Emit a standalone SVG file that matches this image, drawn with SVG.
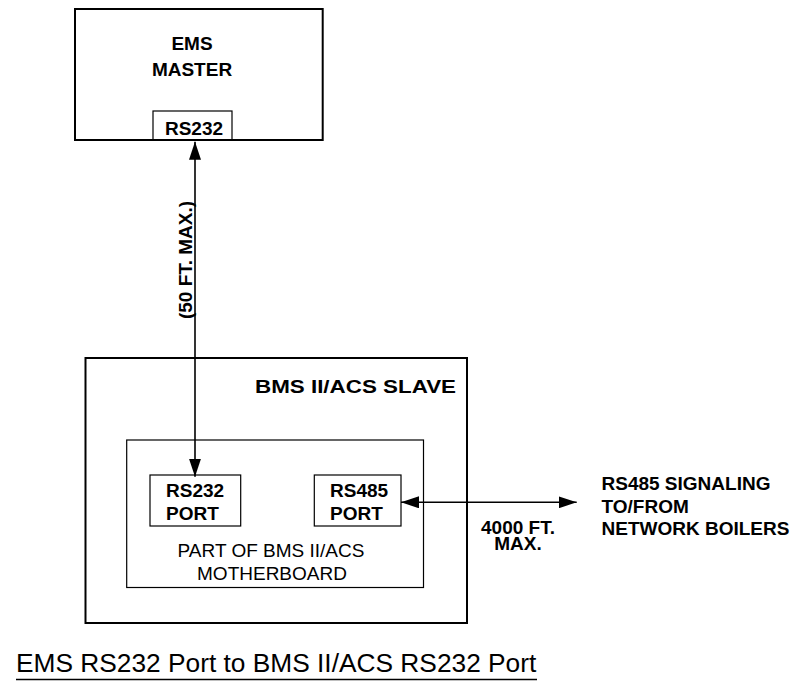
<svg xmlns="http://www.w3.org/2000/svg" width="791" height="683" viewBox="0 0 791 683">
<defs>
<style>
text{font-family:"Liberation Sans",Arial,Helvetica,sans-serif;fill:#000}
.b{font-weight:bold;font-size:19px}
.r{font-size:19px}
.thick{fill:none;stroke:#000;stroke-width:2}
.thin{fill:none;stroke:#000;stroke-width:1.2}
.conn{fill:none;stroke:#000;stroke-width:1.6}
</style>
<marker id="ah" viewBox="0 0 18 12" refX="18" refY="6" markerWidth="18" markerHeight="12" markerUnits="userSpaceOnUse" orient="auto-start-reverse">
<path d="M0,0 L18,6 L0,12 z" fill="#000"/>
</marker>
</defs>
<rect width="791" height="683" fill="#fff"/>

<g id="ems-master">
<rect class="thick" x="75" y="9" width="247.7" height="131"/>
<text class="b" x="192" y="50" text-anchor="middle" font-size="19.5">EMS</text>
<text class="b" x="192" y="76" text-anchor="middle" font-size="19.5">MASTER</text>
</g>
<g id="ems-rs232">
<rect class="thin" x="153" y="111" width="79" height="29"/>
<text class="b" x="194" y="135" text-anchor="middle">RS232</text>
</g>

<g id="bms-slave">
<rect class="thick" x="85.5" y="358" width="381.5" height="265"/>
<text class="b" x="456" y="393" text-anchor="end" font-size="22.5" textLength="201" lengthAdjust="spacingAndGlyphs">BMS II/ACS SLAVE</text>
</g>

<g id="motherboard">
<rect class="thin" x="126.7" y="440" width="296.8" height="147.5"/>
<text class="r" x="271" y="557" text-anchor="middle">PART OF BMS II/ACS</text>
<text class="r" x="272" y="580" text-anchor="middle">MOTHERBOARD</text>
</g>

<g id="rs232-port">
<rect class="thin" x="150" y="475" width="90.7" height="51"/>
<text class="b" x="166" y="497">RS232</text>
<text class="b" x="166" y="520">PORT</text>
</g>

<g id="rs485-port">
<rect class="thin" x="314.3" y="475" width="86.7" height="51"/>
<text class="b" x="330" y="497">RS485</text>
<text class="b" x="330" y="520">PORT</text>
</g>

<g id="network-boilers">
<text class="b" x="601.5" y="490">RS485 SIGNALING</text>
<text class="b" x="601.5" y="512.5">TO/FROM</text>
<text class="b" x="601.5" y="534.5">NETWORK BOILERS</text>
</g>

<g id="connectors">
<line class="conn" x1="195" y1="141.7" x2="195" y2="476.7" marker-start="url(#ah)" marker-end="url(#ah)"/>
<line class="conn" x1="401" y1="502.3" x2="576.7" y2="502.3" marker-start="url(#ah)" marker-end="url(#ah)"/>
<text class="b" transform="translate(191.5 260) rotate(-90)" text-anchor="middle">(50 FT. MAX.)</text>
<text class="b" x="518" y="534.3" text-anchor="middle">4000 FT.</text>
<text class="b" x="518" y="550" text-anchor="middle">MAX.</text>
</g>

<g id="title">
<text x="16" y="671.7" font-size="26.3">EMS RS232 Port to BMS II/ACS RS232 Port</text>
<line x1="16" y1="679.5" x2="537" y2="679.5" stroke="#000" stroke-width="1.6"/>
</g>
</svg>
